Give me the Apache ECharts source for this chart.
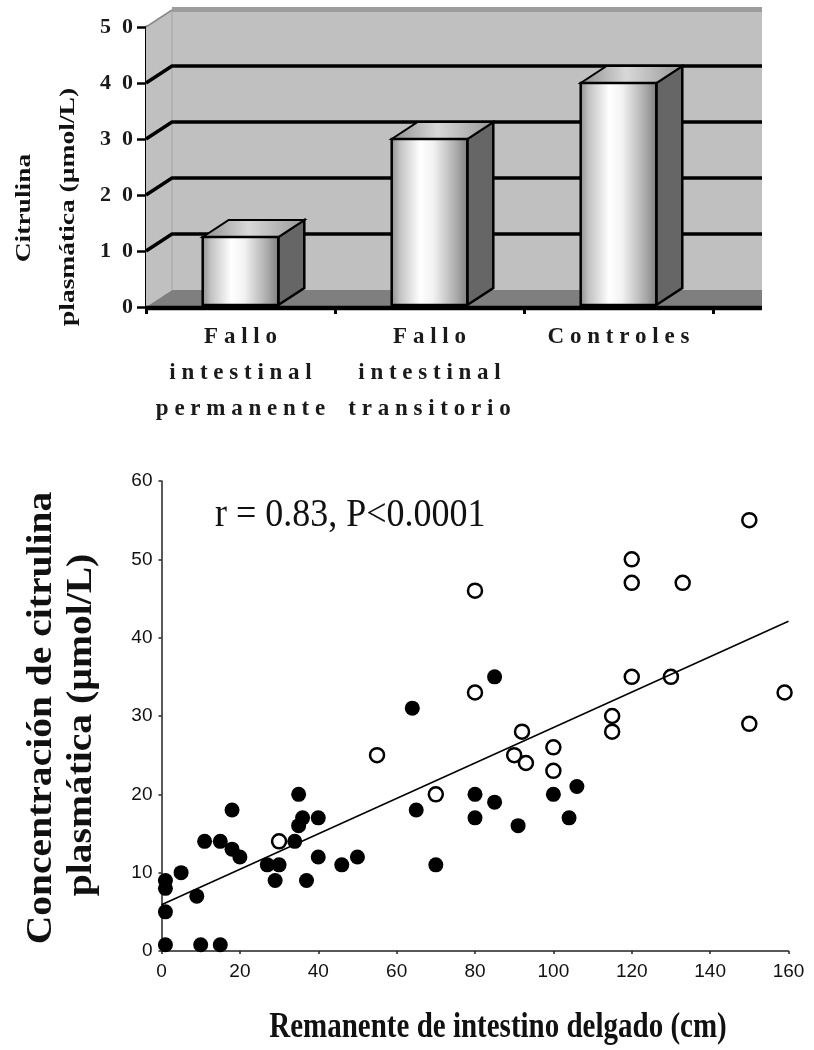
<!DOCTYPE html>
<html><head><meta charset="utf-8">
<script src="https://cdn.jsdelivr.net/npm/echarts@6/dist/echarts.min.js"></script>
<style>html,body{margin:0;padding:0;background:#fff}#c{width:814px;height:1050px}</style>
</head><body><div id="c"></div>
<script>
// ---------- data ----------
const barCategories = ['Fallo\nintestinal\npermanente', 'Fallo\nintestinal\ntransitorio', 'Controles'];
const barValues = [12.5, 30, 40];
const barTicks = [0, 10, 20, 30, 40, 50];

const filledPoints = [
  [1, 0.8], [10, 0.8], [15, 0.8], [1, 5], [9, 7], [1, 8], [1, 9], [5, 10],
  [11, 14], [15, 14], [18, 18], [18, 13], [20, 12], [27, 11], [30, 11], [29, 9],
  [37, 9], [34, 14], [35, 16], [36, 17], [40, 17], [35, 20], [40, 12], [46, 11],
  [50, 12], [64, 31], [65, 18], [70, 11], [80, 20], [80, 17], [85, 35], [85, 19],
  [91, 16], [100, 20], [104, 17], [106, 21]
];
const openPoints = [
  [30, 14], [55, 25], [70, 20], [80, 46], [80, 33], [90, 25], [93, 24], [92, 28],
  [100, 26], [100, 23], [115, 30], [115, 28], [120, 50], [120, 47], [120, 35],
  [130, 35], [133, 47], [150, 55], [150, 29], [159, 33]
];
const trendLine = [[0, 5.9], [160, 42.1]];
const scatterXTicks = [0, 20, 40, 60, 80, 100, 120, 140, 160];
const scatterYTicks = [0, 10, 20, 30, 40, 50, 60];
const annotationText = 'r = 0.83, P<0.0001';

// ---------- chart ----------
const DX = 26, DY = -17;
const chart = echarts.init(document.getElementById('c'), null, {renderer: 'canvas'});
const serif = '"Liberation Serif", "Times New Roman", serif';
const sans = '"Liberation Sans", Arial, sans-serif';
const spaced = s => s.split('\n').map(l => l.split('').join(' ')).join('\n');

function wallsRender(params, api) {
  const cs = params.coordSys;
  const y = v => api.coord([0, v])[1];
  const x0 = cs.x, xb = cs.x + DX, xr = cs.x + cs.width + 49;
  const vMin = barTicks[0], vMax = barTicks[barTicks.length - 1];
  const ch = [];
  ch.push({type: 'polygon', shape: {points: [[x0, y(vMin)], [x0, y(vMax)], [xb, y(vMax) + DY], [xb, y(vMin) + DY]]}, style: {fill: '#c0c0c0'}});
  ch.push({type: 'rect', shape: {x: xb, y: y(vMax) + DY, width: xr - xb, height: y(vMin) - y(vMax)}, style: {fill: '#c0c0c0'}});
  ch.push({type: 'rect', shape: {x: xb, y: y(vMax) + DY - 3, width: xr - xb, height: 5}, style: {fill: '#9c9c9c'}});
  ch.push({type: 'polygon', shape: {points: [[x0, y(vMin)], [xb, y(vMin) + DY], [xr, y(vMin) + DY], [xr, y(vMin)]]}, style: {fill: '#7f7f7f'}});
  ch.push({type: 'polyline', shape: {points: [[xb, y(vMax) + DY], [xb, y(vMin) + DY]]}, style: {stroke: '#a6a6a6', lineWidth: 1, fill: null}});
  ch.push({type: 'polyline', shape: {points: [[x0, y(vMax)], [xb, y(vMax) + DY]]}, style: {stroke: '#8a8a8a', lineWidth: 1.5, fill: null}});
  barTicks.slice(1, -1).forEach(v => {
    ch.push({type: 'polyline', shape: {points: [[x0, y(v)], [xb, y(v) + DY], [xr, y(v) + DY]]}, style: {stroke: '#000', lineWidth: 3.5, fill: null}});
  });
  ch.push({type: 'polyline', shape: {points: [[x0 - 1, y(vMin) + 1], [xr, y(vMin) + 1]]}, style: {stroke: '#000', lineWidth: 4.5, fill: null}});
  return {type: 'group', children: ch};
}

function barRender(params, api) {
  const i = api.value(0), v = api.value(1);
  const top = api.coord([i, v]);
  const base = api.coord([i, 0]);
  const bw = api.size([1, 0])[0] * 0.4;
  const l = top[0] - bw / 2, r = top[0] + bw / 2, t = top[1], b = base[1] - 2;
  return {type: 'group', children: [
    {type: 'polygon', shape: {points: [[r, b], [r, t], [r + DX, t + DY], [r + DX, b + DY]]},
     style: {fill: '#666666', stroke: '#000', lineWidth: 2.5}},
    {type: 'polygon', shape: {points: [[l, t], [l + DX, t + DY], [r + DX, t + DY], [r, t]]},
     style: {fill: {type: 'linear', x: 0, y: 0, x2: 1, y2: 0, colorStops: [
       {offset: 0, color: '#8e8e8e'}, {offset: 0.45, color: '#d8d8d8'}, {offset: 1, color: '#969696'}]},
       stroke: '#000', lineWidth: 2}},
    {type: 'rect', shape: {x: l, y: t, width: bw, height: b - t},
     style: {fill: {type: 'linear', x: 0, y: 0, x2: 1, y2: 0, colorStops: [
       {offset: 0, color: '#8a8a8a'}, {offset: 0.12, color: '#c2c2c2'}, {offset: 0.38, color: '#ffffff'},
       {offset: 0.55, color: '#f2f2f2'}, {offset: 0.85, color: '#a9a9a9'}, {offset: 1, color: '#7c7c7c'}]},
       stroke: '#000', lineWidth: 2.5}}
  ]};
}

function txt(x, y, text, font, opts) {
  return Object.assign({type: 'text', x: x, y: y, silent: true,
    style: {text: text, font: font, fill: '#111', align: 'center', verticalAlign: 'middle',
            textAlign: 'center', textVerticalAlign: 'middle'}}, opts || {});
}

const option = {
  animation: false,
  backgroundColor: '#fff',
  grid: [
    {left: 146, top: 27, width: 567, height: 280},
    {left: 161.5, top: 481, width: 627, height: 470}
  ],
  xAxis: [
    {type: 'category', gridIndex: 0, data: barCategories,
     axisLine: {show: false},
     axisTick: {show: true, length: 7, lineStyle: {color: '#000', width: 3}},
     axisLabel: {interval: 0, hideOverlap: false, margin: 12, fontFamily: serif, fontWeight: 'bold',
                 fontSize: 23, lineHeight: 36, color: '#1a1a1a', formatter: v => spaced(v)},
     splitLine: {show: false}},
    {type: 'value', gridIndex: 1, min: scatterXTicks[0], max: scatterXTicks[scatterXTicks.length - 1], interval: 20,
     axisLine: {show: true, lineStyle: {color: '#222', width: 1.5}},
     axisTick: {show: true, length: 3, lineStyle: {color: '#222', width: 1.5}},
     axisLabel: {margin: 11, fontFamily: sans, fontSize: 19, color: '#111'},
     splitLine: {show: false}}
  ],
  yAxis: [
    {type: 'value', gridIndex: 0, min: barTicks[0], max: barTicks[barTicks.length - 1], interval: 10,
     axisLine: {show: true, lineStyle: {color: '#000', width: 3}},
     axisTick: {show: true, length: 9, lineStyle: {color: '#000', width: 2.5}},
     axisLabel: {margin: 13, fontFamily: serif, fontWeight: 'bold', fontSize: 22, color: '#1a1a1a',
                 formatter: v => String(v).split('').join('\u2002')},
     splitLine: {show: false}},
    {type: 'value', gridIndex: 1, min: scatterYTicks[0], max: scatterYTicks[scatterYTicks.length - 1], interval: 10,
     axisLine: {show: true, lineStyle: {color: '#222', width: 1.5}},
     axisTick: {show: true, length: 3, lineStyle: {color: '#222', width: 1.5}},
     axisLabel: {margin: 9, fontFamily: sans, fontSize: 19, color: '#111'},
     splitLine: {show: false}}
  ],
  series: [
    {type: 'custom', name: 'walls', xAxisIndex: 0, yAxisIndex: 0, z: 1, silent: true,
     data: [[0, 0]], renderItem: wallsRender},
    {type: 'custom', name: 'Citrulina', xAxisIndex: 0, yAxisIndex: 0, z: 3,
     data: barValues.map((v, i) => [i, v]), encode: {x: 0, y: 1}, renderItem: barRender},
    {type: 'scatter', name: 'filled', xAxisIndex: 1, yAxisIndex: 1, z: 3, data: filledPoints,
     symbol: 'circle', symbolSize: 15, itemStyle: {color: '#000', opacity: 1}},
    {type: 'scatter', name: 'open', xAxisIndex: 1, yAxisIndex: 1, z: 3, data: openPoints,
     symbol: 'circle', symbolSize: 14, itemStyle: {color: '#fff', borderColor: '#000', borderWidth: 2.5, opacity: 1}},
    {type: 'line', name: 'trend', xAxisIndex: 1, yAxisIndex: 1, z: 4, data: trendLine,
     showSymbol: false, symbol: 'none', lineStyle: {color: '#000', width: 1.5}}
  ],
  graphic: [
    txt(24, 208, 'Citrulina', 'bold 22px ' + serif, {rotation: Math.PI / 2, scaleX: 1.25}),
    txt(68, 207, 'plasmática (µmol/L)', 'bold 22px ' + serif, {rotation: Math.PI / 2, scaleX: 1.25}),
    txt(42, 718, 'Concentración de citrulina', 'bold 35px ' + serif, {rotation: Math.PI / 2, scaleX: 1.13}),
    txt(82, 725, 'plasmática (µmol/L)', 'bold 35px ' + serif, {rotation: Math.PI / 2, scaleX: 1.13}),
    txt(498, 1028, 'Remanente de intestino delgado (cm)', 'bold 29px ' + serif, {scaleY: 1.2}),
    {type: 'text', x: 215, y: 516, silent: true, scaleY: 1.09,
     style: {text: annotationText, font: '36px ' + serif, fill: '#111', align: 'left', verticalAlign: 'middle',
             textAlign: 'left', textVerticalAlign: 'middle'}}
  ]
};
chart.setOption(option);
</script>
</body></html>
